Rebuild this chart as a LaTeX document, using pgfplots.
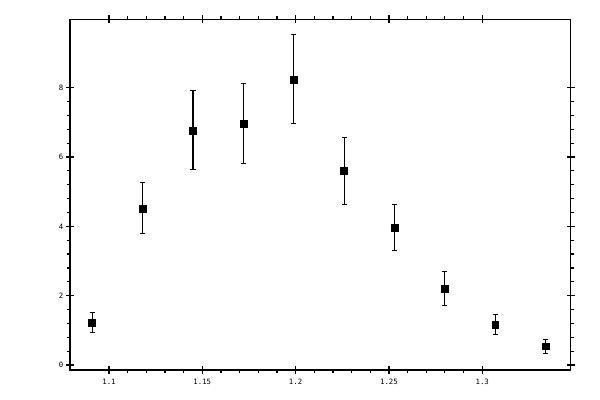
\documentclass[border=0pt]{standalone}
\usepackage{pgfplots}
\pgfplotsset{compat=1.18}
\usepackage{fontspec}
\setmainfont{DejaVu Sans Mono}
\pgfplotstableread{
x y e
1.091 1.23 0.29
1.118 4.52 0.74
1.145 6.77 1.14
1.172 6.97 1.15
1.199 8.24 1.28
1.226 5.59 0.97
1.253 3.97 0.66
1.280 2.21 0.48
1.307 1.17 0.29
1.334 0.54 0.20
}\datatable
\begin{document}
\begin{tikzpicture}
\useasboundingbox (0,0) rectangle (450pt,300pt);
\pgfplotsset{
  common/.style={
    scale only axis,
    width=375.5pt, height=263pt,
    at={(52.5pt,22.5pt)}, anchor=south west,
    xmin=1.0791, xmax=1.3474,
    ymin=-0.144, ymax=9.971,
    xtick={1.1,1.15,1.2,1.25,1.3},
    ytick={0,2,4,6,8},
    axis line style={line width=0.9pt},
    every tick/.style={line width=0.9pt, black},
    tick pos=both,
  }
}
\begin{axis}[common,
  minor x tick num=4, minor y tick num=4,
  tick align=outside,
  major tick length=0pt, minor tick length=2.6pt,
  /pgf/number format/assume math mode=true,
  ticklabel style={font=\fontsize{5.5}{6}\selectfont},
  xticklabel style={anchor=north, yshift=-3.5pt},
  yticklabel style={anchor=east, xshift=-1.5pt},
  xticklabel pos=lower, yticklabel pos=left,
]
\addplot[black, only marks, mark=square*, mark size=2.6pt,
  error bars/.cd, y dir=both, y explicit,
  error bar style={line width=0.8pt, black},
  error mark options={rotate=90, mark size=1.9pt, line width=0.8pt, black}]
  table[x=x, y=y, y error=e] {\datatable};
\end{axis}
\begin{axis}[common,
  tick align=center, major tick length=6pt,
  xticklabels={}, yticklabels={},
]
\end{axis}
\end{tikzpicture}
\end{document}
